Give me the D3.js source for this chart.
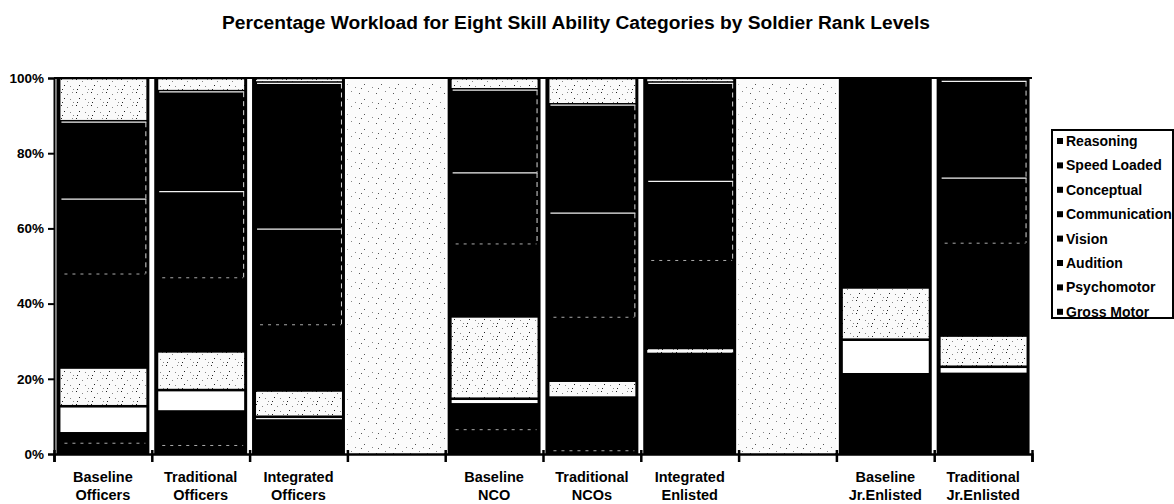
<!DOCTYPE html>
<html>
<head>
<meta charset="utf-8">
<script src="https://cdn.jsdelivr.net/npm/d3@7"></script>
<style>
  html, body { margin: 0; padding: 0; background: #fff; }
  svg { display: block; font-family: "Liberation Sans", Arial, sans-serif; }
</style>
</head>
<body>
<svg id="chart" width="1174" height="504"></svg>
<script>
// ---------------- DATA ----------------
const labelLine1 = ["Baseline", "Traditional", "Integrated", "", "Baseline", "Traditional", "Integrated", "", "Baseline", "Traditional"];
const labelLine2 = ["Officers", "Officers", "Officers", "", "NCO", "NCOs", "Enlisted", "", "Jr.Enlisted", "Jr.Enlisted"];

// series, bottom of stack first (legend lists them top first)
const seriesNames = ["Gross Motor", "Psychomotor", "Audition", "Vision", "Communication", "Conceptual", "Speed Loaded", "Reasoning"];

// percent of workload per category (null = empty spacer category)
const grossMotor    = [3.0, 2.4, 0.0, null, 6.6, 1.0, 0.0, null, 0.0, 0.0];
const psychomotor   = [2.5, 8.9, 8.9, null, 6.6, 14.0, 26.6, null, 21.2, 21.3];
const audition      = [7.2, 5.7, 1.0, null, 1.5, 0.0, 0.0, null, 9.2, 1.9];
const vision        = [10.3, 10.3, 7.0, null, 21.9, 4.5, 1.6, null, 13.9, 8.3];
const communication = [25.0, 19.7, 17.6, null, 19.4, 17.0, 23.4, null, 55.7, 24.7];
const conceptual    = [20.0, 23.0, 25.5, null, 19.0, 27.8, 21.1, null, 0.0, 17.4];
const speedLoaded   = [20.5, 26.5, 38.8, null, 22.0, 28.7, 26.1, null, 0.0, 25.7];
const reasoning     = [11.5, 3.5, 1.2, null, 3.0, 7.0, 1.2, null, 0.0, 0.7];

const yTickValues = [0, 0.2, 0.4, 0.6, 0.8, 1.0];
const titleText = "Percentage Workload for Eight Skill Ability Categories by Soldier Rank Levels";

// ---------------- STYLE ----------------
const seriesFill = {
  "Gross Motor": "#000", "Psychomotor": "#000", "Audition": "#fff", "Vision": "url(#stipDense)",
  "Communication": "#000", "Conceptual": "#000", "Speed Loaded": "#000", "Reasoning": "url(#stipDense)"
};
const lightSeries = ["Audition", "Vision", "Reasoning"];
const solidOutline = ["Conceptual", "Speed Loaded"];
const dashedTop = ["Communication", "Gross Motor"];

// ---------------- BUILD ----------------
const valuesBySeries = [grossMotor, psychomotor, audition, vision, communication, conceptual, speedLoaded, reasoning];
const nCat = labelLine1.length;
const rows = d3.range(nCat).map(i => {
  const r = { idx: i, spacer: valuesBySeries.every(v => v[i] == null) };
  seriesNames.forEach((s, k) => r[s] = valuesBySeries[k][i] || 0);
  return r;
});
const dataRows = rows.filter(r => !r.spacer);

const svg = d3.select("#chart");
const defs = svg.append("defs");

// stipple patterns
const pd = defs.append("pattern").attr("id", "stipDense").attr("patternUnits", "userSpaceOnUse")
  .attr("width", 15).attr("height", 13);
pd.append("rect").attr("width", 15).attr("height", 13).attr("fill", "#fafafa");
[[1,1],[7,3],[12,1],[4,7],[10,8],[13,11],[2,11]].forEach(([a,b],k) =>
  pd.append("rect").attr("x", a).attr("y", b).attr("width", 1).attr("height", 1)
    .attr("fill", k % 3 === 0 ? "#222" : "#888"));

const ps = defs.append("pattern").attr("id", "stipSparse").attr("patternUnits", "userSpaceOnUse")
  .attr("width", 17).attr("height", 15);
ps.append("rect").attr("width", 17).attr("height", 15).attr("fill", "#fbfbfb");
[[2,3],[11,1],[7,9],[15,12],[4,13]].forEach(([a,b],k) =>
  ps.append("rect").attr("x", a).attr("y", b).attr("width", 1).attr("height", 1)
    .attr("fill", k % 2 ? "#888" : "#555"));

const x = d3.scaleBand().domain(d3.range(nCat)).range([54, 1032]).paddingInner(0.05).paddingOuter(0.025);
const xb = d3.scaleLinear().domain([0, nCat]).range([54, 1032]);
const y = d3.scaleLinear().domain([0, 1]).range([454, 78]);
const bw = x.bandwidth();
const step = x.step();

// title
svg.append("text").attr("x", 576).attr("y", 29).attr("text-anchor", "middle")
  .attr("font-weight", "bold").attr("font-size", 19.2).text(titleText);

// spacer categories (stippled)
svg.append("g").selectAll("rect").data(rows.filter(r => r.spacer)).join("rect")
  .attr("x", d => x(d.idx) - (step - bw) / 2).attr("width", step)
  .attr("y", y(1)).attr("height", y(0) - y(1))
  .attr("fill", "url(#stipSparse)");

// black bar bodies
svg.append("g").selectAll("rect").data(dataRows).join("rect")
  .attr("x", d => x(d.idx)).attr("width", bw)
  .attr("y", y(1)).attr("height", y(0) - y(1)).attr("fill", "#000");

// stacked segments
const stacked = d3.stack().keys(seriesNames).offset(d3.stackOffsetExpand)(dataRows);
const segG = svg.append("g");
stacked.forEach(layer => {
  const name = layer.key;
  const g = segG.append("g");
  if (lightSeries.includes(name)) {
    g.selectAll("rect").data(layer).join("rect")
      .attr("x", d => x(d.data.idx) + 4).attr("width", bw - 7)
      .attr("y", d => y(d[1]) + 1.3)
      .attr("height", d => Math.max(0, y(d[0]) - y(d[1]) - 2.6))
      .attr("fill", seriesFill[name]);
  } else {
    const segs = layer.filter(d => d[1] - d[0] > 0.001);
    if (solidOutline.includes(name)) {
      g.selectAll("line.top").data(segs).join("line").attr("class", "top")
        .attr("x1", d => x(d.data.idx) + 5).attr("x2", d => x(d.data.idx) + bw - 3)
        .attr("y1", d => y(d[1]) + 0.8).attr("y2", d => y(d[1]) + 0.8)
        .attr("stroke", "#f2f2f2").attr("stroke-width", 1.3);
      g.selectAll("line.right").data(segs).join("line").attr("class", "right")
        .attr("x1", d => x(d.data.idx) + bw - 3.5).attr("x2", d => x(d.data.idx) + bw - 3.5)
        .attr("y1", d => y(d[1]) + 1).attr("y2", d => y(d[0]))
        .attr("stroke", "#d8d8d8").attr("stroke-width", 1).attr("stroke-dasharray", "5,4");
    } else if (dashedTop.includes(name)) {
      g.selectAll("line").data(segs.filter(d => d[1] < 0.999)).join("line")
        .attr("x1", d => x(d.data.idx) + 8).attr("x2", d => x(d.data.idx) + bw - 4)
        .attr("y1", d => y(d[1]) + 0.5).attr("y2", d => y(d[1]) + 0.5)
        .attr("stroke", "#aaaaaa").attr("stroke-width", 1).attr("stroke-dasharray", "3,5");
    }
  }
});

// top edge line
svg.append("line").attr("x1", 54).attr("x2", 1032).attr("y1", y(1)).attr("y2", y(1))
  .attr("stroke", "#000").attr("stroke-width", 2);

// y axis
const yAxis = svg.append("g").attr("transform", "translate(54,0)")
  .call(d3.axisLeft(y).tickValues(yTickValues).tickFormat(d3.format(".0%")).tickSize(6).tickPadding(4));
yAxis.select(".domain").attr("stroke", "#000").attr("stroke-width", 2);
yAxis.selectAll(".tick line").attr("stroke", "#000").attr("stroke-width", 2);
yAxis.selectAll(".tick text").attr("font-size", 13.5).attr("font-weight", "bold").attr("fill", "#000")
  .attr("font-family", "Liberation Sans, Arial, sans-serif");

// x axis (ticks between categories)
const xAxis = svg.append("g").attr("transform", `translate(0,${y(0)})`)
  .call(d3.axisBottom(xb).tickValues(d3.range(nCat + 1)).tickFormat("").tickSize(8));
xAxis.select(".domain").attr("stroke", "#000").attr("stroke-width", 2.5);
xAxis.selectAll(".tick line").attr("stroke", "#000").attr("stroke-width", 2.5).attr("y1", -4);

// category labels
const lab = svg.append("g").attr("font-weight", "bold").attr("font-size", 14.5).attr("text-anchor", "middle");
lab.selectAll("text.l1").data(rows).join("text").attr("class", "l1")
  .attr("x", d => x(d.idx) + bw / 2).attr("y", 482).text(d => labelLine1[d.idx]);
lab.selectAll("text.l2").data(rows).join("text").attr("class", "l2")
  .attr("x", d => x(d.idx) + bw / 2).attr("y", 500).text(d => labelLine2[d.idx]);

// legend
const lx = 1052, ly = 130, lw = 121, lh = 188;
const leg = svg.append("g");
leg.append("rect").attr("x", lx).attr("y", ly).attr("width", lw).attr("height", lh).attr("fill", "#fff");
const legendNames = seriesNames.slice().reverse();
const li = leg.append("g").selectAll("g").data(legendNames).join("g")
  .attr("transform", (d, i) => `translate(0,${141 + i * 24.4})`);
li.append("rect").attr("x", lx + 5).attr("y", -3).attr("width", 6).attr("height", 6).attr("fill", "#000");
li.append("text").attr("x", lx + 14).attr("y", 5).attr("font-size", 14).attr("font-weight", "bold").text(d => d);
leg.append("rect").attr("x", lx).attr("y", ly).attr("width", lw).attr("height", lh)
  .attr("fill", "none").attr("stroke", "#000").attr("stroke-width", 2);
</script>
</body>
</html>
